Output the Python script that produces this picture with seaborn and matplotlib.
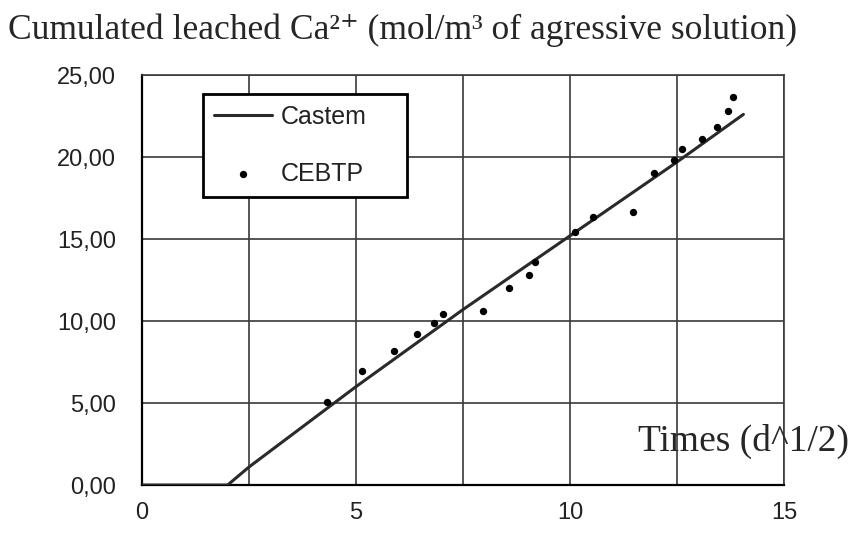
import numpy as np
import pandas as pd
import matplotlib
matplotlib.use('Agg')
import matplotlib.pyplot as plt
import seaborn as sns
from matplotlib.ticker import FuncFormatter, MultipleLocator

# Castem model curve
castem_t = [0.0, 1.45, 2.0, 2.5, 5.0, 7.5, 10.0, 12.5, 14.05]
castem_ca = [0.0, 0.0, 0.0, 1.1, 6.0, 10.7, 15.2, 19.7, 22.6]

# CEBTP measurements
cebtp_t = [4.31, 5.13, 5.89, 6.42, 6.83, 7.02, 7.96, 8.58, 9.05, 9.18,
           10.12, 10.53, 11.46, 11.95, 12.42, 12.61, 13.08, 13.43, 13.70, 13.80]
cebtp_ca = [5.08, 6.95, 8.17, 9.2, 9.9, 10.43, 10.63, 12.0, 12.8, 13.6,
            15.45, 16.36, 16.67, 19.0, 19.8, 20.5, 21.1, 21.85, 22.8, 23.64]

sns.set_style('white')
plt.rcParams['font.family'] = ['Liberation Sans', 'DejaVu Sans']

fig = plt.figure(figsize=(8.53, 5.37), dpi=100)
ax = fig.add_axes([0.1665, 0.0968, 0.7527, 0.7635])

castem = pd.DataFrame({'t': castem_t, 'ca': castem_ca})
cebtp = pd.DataFrame({'t': cebtp_t, 'ca': cebtp_ca})

sns.lineplot(data=castem, x='t', y='ca', ax=ax, color='#2a2a2a', lw=2.2,
             label='Castem', zorder=3)
sns.scatterplot(data=cebtp, x='t', y='ca', ax=ax, color='black', s=28,
                edgecolor='black', linewidth=0, label='CEBTP', zorder=4)

ax.set_xlim(0, 15)
ax.set_ylim(0, 25)
ax.xaxis.set_major_locator(MultipleLocator(2.5))
ax.yaxis.set_major_locator(MultipleLocator(5))
ax.xaxis.set_major_formatter(FuncFormatter(lambda v, p: f'{v:.0f}' if v % 5 == 0 else ''))
ax.yaxis.set_major_formatter(FuncFormatter(lambda v, p: f'{v:.2f}'.replace('.', ',')))
ax.grid(True, color='#3a3a3a', lw=1.2)
ax.tick_params(axis='both', direction='out', width=1.3, color='black',
               labelsize=17, labelcolor='#222222')
ax.tick_params(axis='y', length=9, pad=9.5)
ax.tick_params(axis='x', length=6, pad=6)
for s in ['left', 'bottom']:
    ax.spines[s].set_color('black')
    ax.spines[s].set_linewidth(1.6)
for s in ['top', 'right']:
    ax.spines[s].set_color('#3a3a3a')
    ax.spines[s].set_linewidth(1.2)
ax.set_xlabel('')
ax.set_ylabel('')

leg = ax.legend(loc='upper left', bbox_to_anchor=(0.095, 0.707, 0.318, 0.247),
                mode='expand', borderaxespad=0, fancybox=False, frameon=True,
                fontsize=18, labelspacing=1.3, handlelength=2.3, handletextpad=0.35,
                borderpad=0.45, labelcolor='#222222')
leg.get_frame().set_edgecolor('black')
leg.get_frame().set_linewidth(2)
leg.get_frame().set_alpha(1)

fig.text(0.009, 0.944, 'Cumulated leached Ca²⁺ (mol/m³ of agressive solution)',
         family=['Liberation Serif', 'DejaVu Serif'], fontsize=25.6,
         va='center', ha='left')
ax.text(0.773, 0.107, 'Times (d^1/2)', transform=ax.transAxes,
        family='Liberation Serif', fontsize=27, ha='left', va='center')

fig.savefig('out.png', dpi=100)
